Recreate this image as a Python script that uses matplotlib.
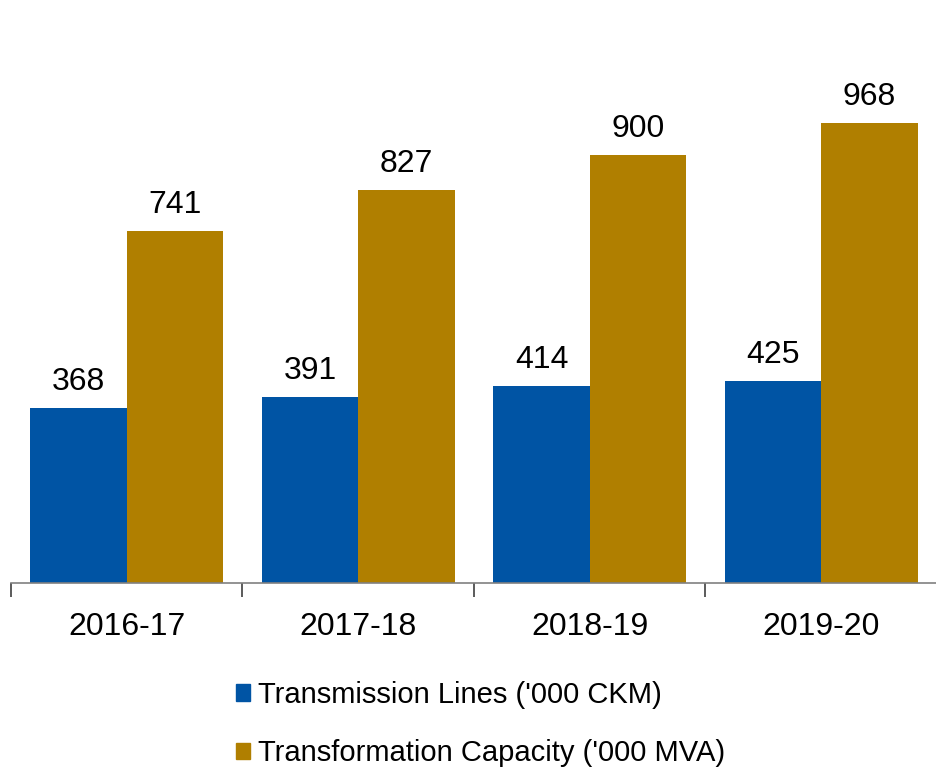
import numpy as np
import matplotlib.pyplot as plt
from matplotlib.patches import Patch

# ==== Data ====
years = ["2016-17", "2017-18", "2018-19", "2019-20"]
transmission_lines = [368, 391, 414, 425]
transformation_capacity = [741, 827, 900, 968]
series_names = ["Transmission Lines ('000 CKM)", "Transformation Capacity ('000 MVA)"]

blue = "#0054A4"
gold = "#B07F00"

plt.rcParams['font.family'] = ['Liberation Sans', 'DejaVu Sans']

fig = plt.figure(figsize=(9.37, 7.67), dpi=100)
# axes placed so the baseline sits where the reference has it
ax = fig.add_axes([11 / 937, 1 - 583 / 767, (937 - 11) / 937, 583 / 767])

x = np.arange(len(years))
w = 97 / 233

b1 = ax.bar(x - w / 2, transmission_lines, w, color=blue)
b2 = ax.bar(x + w / 2, transformation_capacity, w, color=gold)

for bars, vals in ((b1, transmission_lines), (b2, transformation_capacity)):
    for rect, v in zip(bars, vals):
        ax.annotate(f"{v}", (rect.get_x() + rect.get_width() / 2, rect.get_height()),
                    xytext=(0, 8), textcoords="offset points",
                    ha="center", va="bottom", fontsize=23)

ax.set_xlim(-0.5, -0.5 + (937 - 11) / 233.4)
ax.set_ylim(0, 583 / (460 / 968))

for s in ("top", "right", "left"):
    ax.spines[s].set_visible(False)
ax.spines["bottom"].set_color("#808080")
ax.spines["bottom"].set_linewidth(1.2)

ax.set_yticks([])
ax.set_xticks(x)
ax.set_xticklabels(years, fontsize=23)
ax.tick_params(axis="x", which="major", length=0, pad=21)
ax.set_xticks(np.arange(len(years) + 1) - 0.5, minor=True)
ax.tick_params(axis="x", which="minor", length=10, width=1.2, color="#404040")

handles = [Patch(color=blue), Patch(color=gold)]
fig.legend(handles, series_names, loc="upper left", bbox_to_anchor=(224 / 937, 1 - 669 / 767),
           frameon=False, fontsize=21, handlelength=0.5, handleheight=0.5,
           handletextpad=0.28, labelspacing=1.05, borderaxespad=0)

fig.savefig("out.png", dpi=100)
